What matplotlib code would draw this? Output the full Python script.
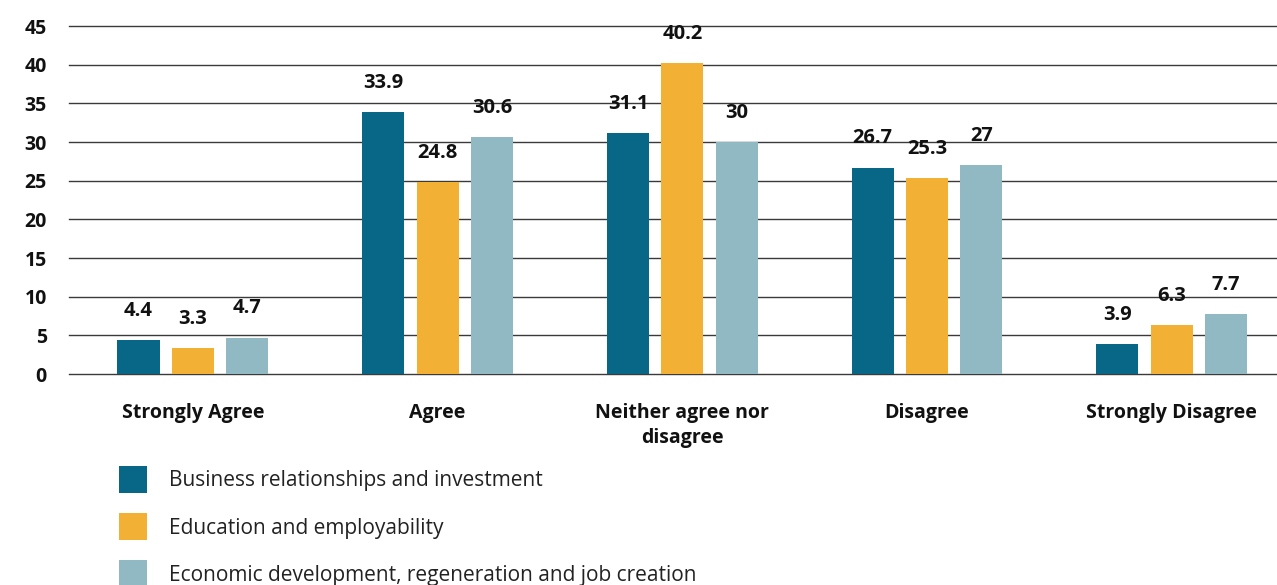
import matplotlib.pyplot as plt
import numpy as np

categories = ['Strongly Agree', 'Agree', 'Neither agree nor\ndisagree', 'Disagree', 'Strongly Disagree']
series_names = ['Business relationships and investment',
                'Education and employability',
                'Economic development, regeneration and job creation']
business = [4.4, 33.9, 31.1, 26.7, 3.9]
education = [3.3, 24.8, 40.2, 25.3, 6.3]
economic = [4.7, 30.6, 30, 27, 7.7]
colors = ['#086786', '#F2B035', '#90B9C3']

plt.rcParams['font.family'] = ['Open Sans', 'DejaVu Sans']

fig = plt.figure(figsize=(12.77, 5.85), dpi=100)
ax = fig.add_axes([69 / 1277, 1 - 374 / 585, 1 - 69 / 1277, 348 / 585])

x = np.arange(len(categories))
width = 0.172
offset = 0.222
handles = []
for i, (vals, col) in enumerate(zip([business, education, economic], colors)):
    bars = ax.bar(x + (i - 1) * offset, vals, width=width, color=col, zorder=3,
                  label=series_names[i])
    handles.append(bars)
    for b, v in zip(bars, vals):
        ax.annotate(f'{v:g}', (b.get_x() + b.get_width() / 2, v),
                    xytext=(0, 21), textcoords='offset points',
                    ha='center', va='center', fontsize=14.5, fontweight='bold',
                    color='#111111')

ax.set_ylim(0, 45)
ax.set_xlim(-0.506, 4.43)
ax.set_yticks(range(0, 46, 5))
ax.yaxis.grid(True, color='#3a3a3a', linewidth=1)
for gl in ax.get_ygridlines():
    gl.set_clip_on(False)
ax.set_axisbelow(True)
ax.tick_params(axis='y', length=0, pad=16, labelsize=14)
for lbl in ax.get_yticklabels():
    lbl.set_fontweight('bold')
    lbl.set_color('#111111')
ax.set_xticks(x)
ax.set_xticklabels(categories, fontsize=14, fontweight='bold', color='#111111',
                   linespacing=1.35)
ax.tick_params(axis='x', length=0, pad=21)
for s in ax.spines.values():
    s.set_visible(False)

fig.legend(handles=handles, labels=series_names, loc='upper left',
           bbox_to_anchor=(100 / 1277, 1 - 447 / 585), frameon=False,
           fontsize=15, handlelength=1.35, handleheight=1.65,
           handletextpad=1.05, labelspacing=0.95, labelcolor='#222222')

fig.savefig('out.png', dpi=100)
